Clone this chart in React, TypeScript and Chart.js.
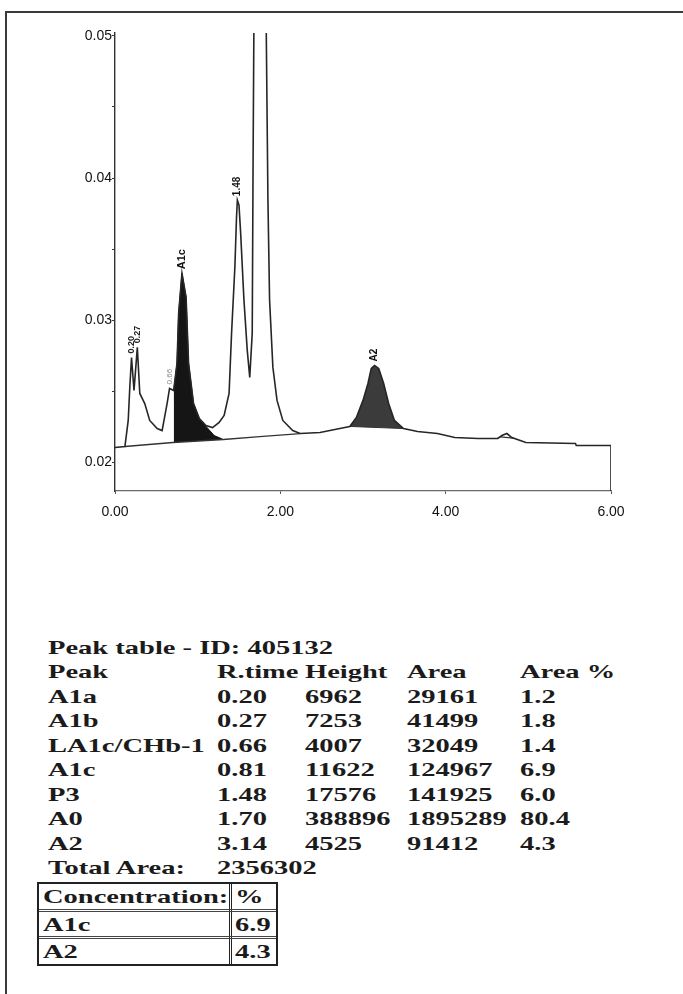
import React, { useEffect, useRef } from "react";
import { Chart, registerables } from "chart.js";

Chart.register(...registerables);

// ---------- chromatogram data (retention time in min, absorbance) ----------
const signalTimes = [
  0.0, 0.12, 0.16, 0.18, 0.2, 0.23, 0.27, 0.3, 0.36, 0.42, 0.51, 0.57, 0.63, 0.66,
  0.71, 0.75, 0.77, 0.81, 0.86, 0.89, 0.95, 1.02, 1.1, 1.18, 1.26, 1.32, 1.38, 1.41,
  1.45, 1.47, 1.48, 1.5, 1.52, 1.56, 1.6, 1.63, 1.66, 1.67, 1.7, 1.83, 1.85, 1.87,
  1.91, 1.96, 2.03, 2.15, 2.24, 2.48, 2.72, 2.84, 2.92, 3.0, 3.06, 3.1, 3.14, 3.19,
  3.25, 3.31, 3.38, 3.49, 3.66, 3.9, 4.11, 4.39, 4.63, 4.68, 4.74, 4.8, 4.97, 5.57,
  5.58, 6.0, 6.0,
];
const signalValues = [
  0.02106, 0.02113, 0.02296, 0.02542, 0.02739, 0.02507, 0.0281, 0.02486, 0.02415,
  0.02296, 0.02239, 0.02225, 0.02415, 0.02521, 0.02507, 0.02697, 0.03049, 0.03331,
  0.03162, 0.02697, 0.02415, 0.0231, 0.02261, 0.02246, 0.02282, 0.02331, 0.02486,
  0.02908, 0.03373, 0.03725, 0.03845, 0.0381, 0.03613, 0.03141, 0.02789, 0.02599,
  0.02908, 0.04077, 0.07, 0.0502, 0.03845, 0.03141, 0.02669, 0.02437, 0.02296,
  0.02225, 0.02204, 0.02211, 0.02239, 0.02254, 0.02317, 0.02437, 0.02556, 0.02662,
  0.02683, 0.02662, 0.02556, 0.02415, 0.02296, 0.02239, 0.02218, 0.02204, 0.02176,
  0.02169, 0.02169, 0.0219, 0.02204, 0.02176, 0.02141, 0.02134, 0.0212, 0.0212, 0.018,
];

// integration baselines
const baselineTimes = [0.12, 0.7, 1.31, 1.75, 2.24];
const baselineValues = [0.02113, 0.02141, 0.02162, 0.02183, 0.02204];
const a2BaseTimes = [2.84, 3.49];
const a2BaseValues = [0.02254, 0.02239];
const smallPeakBaseTimes = [4.66, 4.82];
const smallPeakBaseValues = [0.0218, 0.02172];

// outline of the shaded A1c area (top edge)
const a1cFillTimes = [0.71, 0.75, 0.77, 0.81, 0.86, 0.89, 0.95, 1.02, 1.1, 1.2, 1.31];
const a1cFillValues = [0.02507, 0.02697, 0.03049, 0.03331, 0.03162, 0.02697, 0.02415, 0.0231, 0.02255, 0.0219, 0.02162];
// shaded A2 area follows the signal between these times
const a2FillRange = [2.84, 3.49];

// labels written over the peaks
const peakLabelTexts = ["0.20", "0.27", "0.66", "A1c", "1.48", "A2"];
const peakLabelTimes = [0.2, 0.27, 0.66, 0.81, 1.48, 3.14];
const peakLabelTops = [0.02739, 0.0281, 0.02521, 0.03331, 0.03845, 0.02683];

// axis ticks
const xTickValues = [0, 2, 4, 6];
const xTickLabels = ["0.00", "2.00", "4.00", "6.00"];
const yTickValues = [0.02, 0.025, 0.03, 0.035, 0.04, 0.045, 0.05];
const yTickLabels = ["0.02", "", "0.03", "", "0.04", "", "0.05"];

// peak table
const tableTitle = "Peak table - ID: 405132";
const tableHeaders = ["Peak", "R.time", "Height", "Area", "Area %"];
const peakNames = ["A1a", "A1b", "LA1c/CHb-1", "A1c", "P3", "A0", "A2"];
const peakRTimes = ["0.20", "0.27", "0.66", "0.81", "1.48", "1.70", "3.14"];
const peakHeights = [6962, 7253, 4007, 11622, 17576, 388896, 4525];
const peakAreas = [29161, 41499, 32049, 124967, 141925, 1895289, 91412];
const peakAreaPct = ["1.2", "1.8", "1.4", "6.9", "6.0", "80.4", "4.3"];
const totalAreaLabel = "Total Area:";
const totalArea = 2356302;
const concHeader = ["Concentration:", "%"];
const concNames = ["A1c", "A2"];
const concValues = ["6.9", "4.3"];

// ---------- helpers ----------
const toPoints = (ts: number[], vs: number[]) => ts.map((t, i) => ({ x: t, y: vs[i] }));
const slicePoints = (range: number[]) =>
  toPoints(signalTimes, signalValues).filter(
    (p, i) => p.x >= range[0] && p.x <= range[1] && i < signalTimes.length - 1
  );

const labelStyles = [
  { font: "bold 9px 'Liberation Sans', Arial, sans-serif", color: "#222" },
  { font: "bold 9px 'Liberation Sans', Arial, sans-serif", color: "#222" },
  { font: "8px 'Liberation Sans', Arial, sans-serif", color: "#8a8a8a" },
  { font: "bold 11px 'Liberation Sans', Arial, sans-serif", color: "#111" },
  { font: "bold 10px 'Liberation Sans', Arial, sans-serif", color: "#111" },
  { font: "bold 10px 'Liberation Sans', Arial, sans-serif", color: "#111" },
];

const peakLabelPlugin = {
  id: "peakLabels",
  afterDatasetsDraw(chart: any) {
    const { ctx } = chart;
    const xs = chart.scales.x;
    const ys = chart.scales.y;
    peakLabelTexts.forEach((txt, i) => {
      const px = xs.getPixelForValue(peakLabelTimes[i]);
      const py = ys.getPixelForValue(peakLabelTops[i]) - 4;
      ctx.save();
      ctx.translate(px, py);
      ctx.rotate(-Math.PI / 2);
      ctx.font = labelStyles[i].font;
      ctx.fillStyle = labelStyles[i].color;
      ctx.textAlign = "left";
      ctx.textBaseline = "middle";
      ctx.fillText(txt, 0, 0);
      ctx.restore();
    });
  },
};

const tickFont = { family: "'Liberation Sans', Arial, sans-serif", size: 14 };

function ChromChart() {
  const ref = useRef<HTMLCanvasElement | null>(null);
  useEffect(() => {
    if (!ref.current) return;
    const chart = new Chart(ref.current, {
      type: "line",
      data: {
        datasets: [
          {
            label: "signal",
            data: toPoints(signalTimes, signalValues),
            borderColor: "#262626",
            borderWidth: 1.6,
            pointRadius: 0,
            fill: false,
          },
          {
            label: "baseline",
            data: toPoints(baselineTimes, baselineValues),
            borderColor: "#333",
            borderWidth: 1.3,
            pointRadius: 0,
            fill: false,
          },
          {
            label: "a2base",
            data: toPoints(a2BaseTimes, a2BaseValues),
            borderColor: "#333",
            borderWidth: 1,
            pointRadius: 0,
            fill: false,
          },
          {
            label: "a1cFill",
            data: toPoints(a1cFillTimes, a1cFillValues),
            borderWidth: 1,
            borderColor: "#151515",
            backgroundColor: "#151515",
            pointRadius: 0,
            fill: { target: 1 },
          },
          {
            label: "a2Fill",
            data: slicePoints(a2FillRange),
            borderWidth: 0,
            borderColor: "rgba(0,0,0,0)",
            backgroundColor: "#3b3b3b",
            pointRadius: 0,
            fill: { target: 2 },
          },
          {
            label: "smallPeakBase",
            data: toPoints(smallPeakBaseTimes, smallPeakBaseValues),
            borderColor: "#333",
            borderWidth: 1.2,
            pointRadius: 0,
            fill: false,
          },
        ],
      },
      options: {
        animation: false,
        responsive: false,
        devicePixelRatio: 1,
        layout: { padding: { left: 0, right: 72, top: 33, bottom: 0 } },
        plugins: { legend: { display: false }, tooltip: { enabled: false } },
        scales: {
          x: {
            type: "linear",
            min: 0,
            max: 6,
            afterBuildTicks: (s: any) => {
              s.ticks = xTickValues.map((v) => ({ value: v }));
            },
            afterFit: (s: any) => {
              s.height = 49;
            },
            ticks: {
              autoSkip: false,
              maxRotation: 0,
              padding: 10,
              color: "#111",
              font: tickFont,
              callback: (_v: any, i: number) => xTickLabels[i],
            },
            grid: { drawOnChartArea: false, drawTicks: true, tickLength: 3, color: "#555" },
            border: { color: "#6a6a6a", width: 1.3, dash: [3, 2] },
          },
          y: {
            type: "linear",
            min: 0.018,
            max: 0.0502,
            afterBuildTicks: (s: any) => {
              s.ticks = yTickValues.map((v) => ({ value: v }));
            },
            afterFit: (s: any) => {
              s.width = 115;
            },
            ticks: {
              autoSkip: false,
              padding: 0,
              color: "#111",
              font: tickFont,
              callback: (_v: any, i: number) => yTickLabels[i],
            },
            grid: { drawOnChartArea: false, drawTicks: true, tickLength: 3, color: "#333" },
            border: { color: "#333", width: 1.4 },
          },
        },
      },
      plugins: [peakLabelPlugin],
    } as any);
    return () => chart.destroy();
  }, []);
  return (
    <canvas
      ref={ref}
      width={683}
      height={540}
      style={{ position: "absolute", left: 0, top: 0, width: 683, height: 540 }}
    />
  );
}

const serif = "'Liberation Serif', 'Times New Roman', serif";
const colLefts = [48, 217, 305, 407, 520];
const rowTop0 = 648;
const rowStep = 24.45;

function Cell({ left, cy, text }: { left: number; cy: number; text: string }) {
  return (
    <div
      style={{
        position: "absolute",
        left,
        top: cy - 12,
        height: 24,
        lineHeight: "24px",
        fontFamily: serif,
        fontWeight: "bold",
        fontSize: 19,
        color: "#1b1b1b",
        whiteSpace: "nowrap",
        transform: "scaleX(1.5)",
        transformOrigin: "left center",
      }}
    >
      {text}
    </div>
  );
}

export default function App() {
  const rows: string[][] = peakNames.map((n, i) => [
    n,
    peakRTimes[i],
    String(peakHeights[i]),
    String(peakAreas[i]),
    peakAreaPct[i],
  ]);
  return (
    <div
      style={{
        position: "absolute",
        left: 0,
        top: 0,
        width: 683,
        height: 994,
        background: "#fff",
        overflow: "hidden",
      }}
    >
      <div
        style={{
          position: "absolute",
          left: 5,
          top: 11,
          width: 700,
          height: 1000,
          borderTop: "2px solid #3a3a3a",
          borderLeft: "2px solid #3a3a3a",
        }}
      />
      <ChromChart />
      <Cell left={colLefts[0]} cy={rowTop0} text={tableTitle} />
      {tableHeaders.map((h, c) => (
        <Cell key={"h" + c} left={colLefts[c]} cy={rowTop0 + rowStep} text={h} />
      ))}
      {rows.map((r, ri) =>
        r.map((t, c) => (
          <Cell key={ri + "-" + c} left={colLefts[c]} cy={rowTop0 + rowStep * (ri + 2)} text={t} />
        ))
      )}
      <Cell left={colLefts[0]} cy={rowTop0 + rowStep * 9} text={totalAreaLabel} />
      <Cell left={colLefts[1]} cy={rowTop0 + rowStep * 9} text={String(totalArea)} />

      {/* concentration box */}
      <div
        style={{
          position: "absolute",
          left: 37,
          top: 882,
          width: 237,
          height: 80,
          border: "2px solid #222",
        }}
      />
      <div style={{ position: "absolute", left: 229, top: 882, width: 1, height: 84, borderLeft: "3px double #222" }} />
      <div style={{ position: "absolute", left: 39, top: 909, width: 237, height: 0, borderTop: "3px double #444" }} />
      <div style={{ position: "absolute", left: 39, top: 936, width: 237, height: 0, borderTop: "3px double #444" }} />
      <Cell left={43} cy={897} text={concHeader[0]} />
      <Cell left={235} cy={897} text={concHeader[1]} />
      {concNames.map((n, i) => (
        <React.Fragment key={"c" + i}>
          <Cell left={43} cy={925 + i * 27} text={n} />
          <Cell left={235} cy={925 + i * 27} text={concValues[i]} />
        </React.Fragment>
      ))}
    </div>
  );
}
